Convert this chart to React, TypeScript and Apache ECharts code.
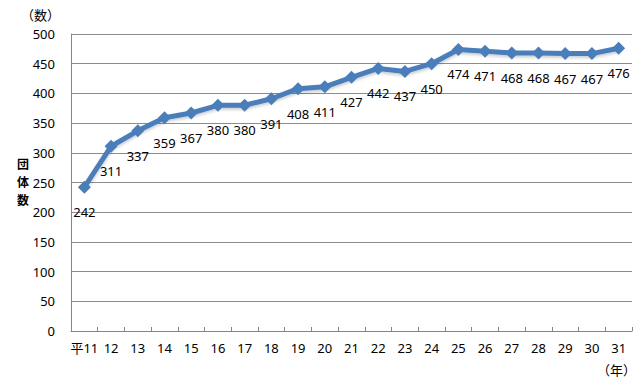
import React, { useEffect, useRef } from "react";
import * as echarts from "echarts";

const categories = ["平11", "12", "13", "14", "15", "16", "17", "18", "19", "20", "21", "22", "23", "24", "25", "26", "27", "28", "29", "30", "31"];
const values = [242, 311, 337, 359, 367, 380, 380, 391, 408, 411, 427, 442, 437, 450, 474, 471, 468, 468, 467, 467, 476];
const yTicks = { min: 0, max: 500, interval: 50 };
const yAxisTitle = ["団", "体", "数"];

const FONT = "'Noto Sans', 'Noto Sans CJK JP', sans-serif";

export default function App() {
  const ref = useRef<HTMLDivElement>(null);
  useEffect(() => {
    if (!ref.current) return;
    const chart = echarts.init(ref.current, undefined, { renderer: "svg" });
    chart.setOption({
      animation: false,
      backgroundColor: "#ffffff",
      grid: { left: 71, right: 10, top: 34, bottom: 49, containLabel: false },
      xAxis: {
        type: "category",
        data: categories,
        boundaryGap: true,
        axisLine: { lineStyle: { color: "#868686", width: 1 } },
        axisTick: { show: true, inside: true, length: 4, alignWithLabel: false, lineStyle: { color: "#868686" } },
        axisLabel: { color: "#000", fontSize: 13, fontFamily: FONT, margin: 10, interval: 0 },
        splitLine: { show: false },
      },
      yAxis: {
        type: "value",
        min: yTicks.min,
        max: yTicks.max,
        interval: yTicks.interval,
        axisLine: { show: true, lineStyle: { color: "#868686", width: 1 } },
        axisTick: { show: false },
        axisLabel: { color: "#000", fontSize: 13, fontFamily: FONT, margin: 16 },
        splitLine: { show: true, lineStyle: { color: "#8c8c8c", width: 1 } },
      },
      graphic: [
        { type: "text", left: 21, top: 8, style: { text: "（数）", fontSize: 13, fontFamily: FONT, fill: "#000" } },
        ...yAxisTitle.map((ch, i) => ({
          type: "text",
          x: 17,
          y: 157 + i * 18,
          style: { text: ch, fontSize: 12, lineHeight: 12, verticalAlign: "top", fontWeight: "bold", fontFamily: "'Noto Sans CJK JP', sans-serif", fill: "#000" },
        })),
        { type: "text", left: 597, top: 363, style: { text: "（年）", fontSize: 13, fontFamily: FONT, fill: "#000" } },
      ],
      series: [
        {
          type: "line",
          data: values,
          symbol: "diamond",
          symbolSize: 13,
          lineStyle: { color: "#4a7ebb", width: 5, shadowColor: "rgba(0,0,0,0.2)", shadowBlur: 3, shadowOffsetY: 2 },
          itemStyle: { color: "#4a7ebb" },
          label: { show: true, position: "bottom", distance: 12, color: "#000", fontSize: 13, fontFamily: FONT },
        },
      ],
    });
    return () => chart.dispose();
  }, []);
  return <div ref={ref} style={{ width: 642, height: 380, position: "absolute", left: 0, top: 0 }} />;
}
